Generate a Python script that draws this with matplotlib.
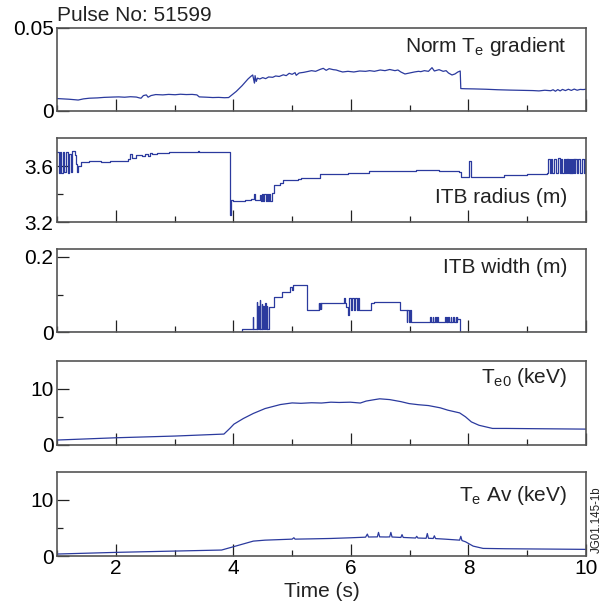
import matplotlib
matplotlib.use("Agg")
import matplotlib.pyplot as plt
import numpy as np
from matplotlib.ticker import FixedLocator, NullFormatter

plt.rcParams['font.family'] = ['Liberation Sans', 'DejaVu Sans']
plt.rcParams['mathtext.default'] = 'regular'

# ---------------- data ----------------
pulse_label = "Pulse No: 51599"
panel_labels = ["Norm T$_e$ gradient", "ITB radius (m)", "ITB width (m)",
                "T$_{e0}$ (keV)", "T$_e$ Av (keV)"]
x_ticks = [2, 4, 6, 8, 10]
x_minor = [1, 3, 5, 7, 9]

grad_t = [1.00, 1.10, 1.20, 1.30, 1.36, 1.45, 1.55, 1.69, 1.80, 1.95, 2.05, 2.15, 2.25, 2.35,
          2.40, 2.43, 2.47, 2.52, 2.55, 2.60, 2.68, 2.80, 2.90, 3.01, 3.10, 3.20, 3.30, 3.38,
          3.42, 3.55, 3.65, 3.75, 3.85, 3.92, 4.05, 4.15, 4.25, 4.30, 4.33, 4.35, 4.36, 4.37,
          4.39, 4.41, 4.45, 4.50, 4.55, 4.60, 4.67, 4.72, 4.78, 4.85, 4.90, 4.95, 5.00, 5.05,
          5.07, 5.12, 5.20, 5.28, 5.33, 5.40, 5.48, 5.53, 5.58, 5.63, 5.70, 5.75, 5.80, 5.86,
          5.95, 6.05, 6.15, 6.25, 6.32, 6.40, 6.50, 6.58, 6.66, 6.75, 6.80, 6.85, 6.92, 7.00,
          7.08, 7.15, 7.19, 7.25, 7.32, 7.38, 7.42, 7.50, 7.57, 7.62, 7.66, 7.72, 7.77, 7.82,
          7.86, 7.87, 7.95, 8.10, 8.30, 8.50, 8.70, 8.97, 9.10, 9.20, 9.30, 9.40, 9.44, 9.48,
          9.52, 9.56, 9.60, 9.65, 9.70, 9.75, 9.80, 9.85, 9.90, 9.95, 10.0]
grad_v = [.0072, .0070, .0068, .0065, .0063, .0070, .0074, .0076, .0079, .0081, .0082, .0080,
          .0083, .0081, .0076, .0074, .0090, .0094, .0080, .0090, .0096, .0094, .0097, .0095,
          .0098, .0096, .0097, .0094, .0082, .0080, .0078, .0079, .0077, .0078, .0115, .0150,
          .0190, .0206, .0214, .0180, .0165, .0210, .0175, .0195, .0190, .0198, .0192, .0202,
          .0200, .0208, .0205, .0215, .0210, .0224, .0218, .0228, .0212, .0226, .0230, .0236,
          .0240, .0236, .0248, .0254, .0242, .0252, .0246, .0244, .0238, .0232, .0236, .0232,
          .0238, .0236, .0240, .0236, .0244, .0240, .0247, .0240, .0244, .0232, .0220, .0226,
          .0232, .0236, .0234, .0240, .0236, .0258, .0238, .0246, .0236, .0240, .0226, .0214,
          .0220, .0232, .0238, .0132, .0131, .0130, .0128, .0125, .0123, .0121, .0120, .0118,
          .0122, .0119, .0125, .0116, .0126, .0118, .0127, .0120, .0128, .0121, .0129, .0122,
          .0127, .0126, .0128]

rad_t = [1.00, 1.03, 1.05, 1.07, 1.10, 1.12, 1.15, 1.18, 1.20, 1.23, 1.25, 1.30, 1.32, 1.34,
         1.36, 1.40, 1.55, 1.65, 1.75, 1.90, 2.10, 2.20, 2.25, 2.28, 2.35, 2.45, 2.50, 2.55,
         2.58, 2.62, 2.70, 2.90, 3.10, 3.40, 3.42, 3.92, 3.935, 3.95, 3.96, 4.00, 4.20, 4.30,
         4.35, 4.37, 4.40, 4.45, 4.47, 4.49, 4.51, 4.53, 4.55, 4.57, 4.59, 4.61, 4.63, 4.65,
         4.69, 4.80, 4.84, 5.10, 5.15, 5.48, 5.95, 6.30, 7.10, 7.50, 7.84, 7.88, 8.01, 8.04,
         8.60, 9.00, 9.34, 9.36, 9.38, 9.40, 9.42, 9.46, 9.49, 9.52, 9.56, 9.58, 9.60, 9.62,
         9.64, 9.66, 9.67, 9.68, 9.69, 9.70, 9.71, 9.72, 9.73, 9.74, 9.75, 9.76, 9.77, 9.78,
         9.79, 9.80, 9.81, 9.82, 9.85, 9.87, 9.90, 9.93, 9.96, 9.98, 10.0]
rad_v = [3.70, 3.55, 3.70, 3.55, 3.70, 3.56, 3.70, 3.55, 3.69, 3.56, 3.71, 3.68, 3.62, 3.56,
         3.60, 3.63, 3.635, 3.64, 3.63, 3.635, 3.64, 3.655, 3.69, 3.66, 3.68, 3.675, 3.69, 3.675,
         3.695, 3.685, 3.695, 3.70, 3.705, 3.71, 3.70, 3.705, 3.36, 3.25, 3.36, 3.355, 3.36, 3.365,
         3.40, 3.36, 3.36, 3.395, 3.355, 3.40, 3.35, 3.40, 3.35, 3.40, 3.35, 3.40, 3.35, 3.41,
         3.465, 3.48, 3.50, 3.51, 3.52, 3.545, 3.55, 3.565, 3.575, 3.565, 3.56, 3.525, 3.64, 3.525,
         3.535, 3.545, 3.555, 3.655, 3.555, 3.655, 3.555, 3.655, 3.555, 3.66, 3.555, 3.655, 3.555,
         3.655, 3.555, 3.655, 3.555, 3.655, 3.555, 3.655, 3.555, 3.655, 3.555, 3.655, 3.555, 3.655,
         3.555, 3.655, 3.555, 3.655, 3.555, 3.655, 3.555, 3.655, 3.555, 3.655, 3.555, 3.655, 3.655]

wid_t = [1.00, 4.15, 4.16, 4.32, 4.33, 4.34, 4.38, 4.40, 4.41, 4.42, 4.43, 4.45, 4.46, 4.48,
         4.49, 4.51, 4.52, 4.54, 4.55, 4.57, 4.58, 4.60, 4.69, 4.83, 4.97, 4.99, 5.01, 5.03,
         5.24, 5.25, 5.45, 5.46, 5.47, 5.49, 5.50, 5.51, 5.88, 5.90, 5.92, 5.95, 5.97, 6.00,
         6.02, 6.05, 6.07, 6.10, 6.12, 6.14, 6.33, 6.35, 6.39, 6.84, 6.86, 6.95, 6.96, 6.99,
         7.00, 7.02, 7.04, 7.35, 7.36, 7.39, 7.40, 7.43, 7.44, 7.47, 7.48, 7.60, 7.61, 7.63,
         7.64, 7.66, 7.67, 7.70, 7.71, 7.74, 7.75, 7.78, 7.79, 7.80, 7.81, 7.85, 10.0]
wid_v = [0.0, 0.0095, 0.0095, 0.0095, 0.041, 0.0095, 0.0095, 0.081, 0.0095, 0.070, 0.0095,
         0.085, 0.0095, 0.075, 0.0095, 0.070, 0.0095, 0.078, 0.0095, 0.070, 0.0095, 0.066,
         0.093, 0.107, 0.121, 0.112, 0.125, 0.125, 0.125, 0.059, 0.077, 0.062, 0.077, 0.062,
         0.077, 0.078, 0.090, 0.077, 0.068, 0.046, 0.090, 0.059, 0.090, 0.059, 0.090, 0.059,
         0.090, 0.059, 0.059, 0.077, 0.079, 0.059, 0.059, 0.028, 0.059, 0.028, 0.059, 0.028,
         0.028, 0.040, 0.028, 0.040, 0.028, 0.040, 0.028, 0.040, 0.028, 0.040, 0.028, 0.040,
         0.028, 0.040, 0.028, 0.040, 0.028, 0.040, 0.028, 0.040, 0.028, 0.040, 0.035, 0.0, 0.0]

te0_t = [1.0, 2.02, 3.01, 3.84, 3.94, 4.01, 4.17, 4.34, 4.54, 4.80, 5.00, 5.15, 5.33, 5.50,
         5.66, 5.80, 5.99, 6.16, 6.26, 6.40, 6.49, 6.66, 6.85, 6.99, 7.15, 7.32, 7.52, 7.65,
         7.85, 7.95, 8.05, 8.18, 8.41, 8.64, 9.30, 10.0]
te0_v = [0.88, 1.29, 1.59, 1.94, 2.94, 3.70, 4.70, 5.60, 6.47, 7.18, 7.47, 7.40, 7.50, 7.45,
         7.60, 7.55, 7.60, 7.45, 7.80, 8.05, 8.20, 8.06, 7.70, 7.35, 7.15, 7.00, 6.60, 6.18,
         5.70, 5.00, 4.10, 3.50, 2.94, 2.94, 2.88, 2.82]

teav_t = [1.0, 2.02, 3.01, 3.80, 3.94, 4.14, 4.34, 4.54, 5.00, 5.03, 5.05, 5.33, 5.66, 5.99,
          6.25, 6.28, 6.30, 6.45, 6.47, 6.49, 6.60, 6.66, 6.68, 6.70, 6.85, 6.87, 6.89, 7.10,
          7.12, 7.14, 7.28, 7.30, 7.32, 7.40, 7.42, 7.44, 7.60, 7.85, 7.87, 7.89, 7.95, 8.08,
          8.25, 8.64, 10.0]
teav_v = [0.35, 0.65, 0.88, 1.06, 1.47, 2.06, 2.65, 2.82, 3.00, 3.25, 3.00, 3.05, 3.12, 3.24,
          3.35, 3.90, 3.38, 3.40, 4.20, 3.40, 3.38, 3.40, 4.20, 3.38, 3.30, 3.80, 3.30, 3.20,
          3.50, 3.20, 3.15, 4.00, 3.15, 3.12, 3.60, 3.10, 3.00, 2.82, 3.50, 2.75, 2.53, 1.76,
          1.35, 1.29, 1.18]

# ---------------- figure ----------------
fig = plt.figure(figsize=(6.1, 6.1), dpi=100)
left, width = 57 / 610, 529 / 610
tops = [27.5, 138.3, 249.3, 360.5, 471.7]
bots = [110.5, 222.3, 332.3, 445.0, 556.0]

line_color = '#2b3a9e'
spine_color = '#555555'

panels = [
    dict(t=grad_t, v=grad_v, ylim=(0, 0.05), major=[0, 0.05], minor=[], lab=['0', '0.05'],
         step=False, ly=0.71),
    dict(t=rad_t, v=rad_v, ylim=(3.2, 3.8), major=[3.2, 3.6], minor=[3.4], lab=['3.2', '3.6'],
         step=True, ly=0.226),
    dict(t=wid_t, v=wid_v, ylim=(0, 0.22), major=[0, 0.2], minor=[0.1], lab=['0', '0.2'],
         step=True, ly=0.711),
    dict(t=te0_t, v=te0_v, ylim=(0, 15), major=[0, 10], minor=[5], lab=['0', '10'],
         step=False, ly=0.73),
    dict(t=teav_t, v=teav_v, ylim=(0, 15), major=[0, 10], minor=[5], lab=['0', '10'],
         step=False, ly=0.656),
]

axes = []
for i, p in enumerate(panels):
    b = 1 - bots[i] / 610
    h = (bots[i] - tops[i]) / 610
    ax = fig.add_axes([left, b, width, h])
    axes.append(ax)
    if p['step']:
        ax.plot(p['t'], p['v'], color=line_color, lw=0.9, drawstyle='steps-post')
    else:
        ax.plot(p['t'], p['v'], color=line_color, lw=0.9)
    ax.set_xlim(1, 10)
    ax.set_ylim(*p['ylim'])
    ax.xaxis.set_major_locator(FixedLocator(x_ticks))
    ax.xaxis.set_minor_locator(FixedLocator(x_minor))
    ax.yaxis.set_major_locator(FixedLocator(p['major']))
    ax.yaxis.set_minor_locator(FixedLocator(p['minor']))
    ax.set_yticklabels(p['lab'])
    ax.xaxis.set_minor_formatter(NullFormatter())
    if i < 4:
        ax.set_xticklabels([])
    ax.tick_params(which='major', direction='in', length=8.4, width=0.9, color='#222222',
                   labelsize=15, pad=2.5)
    ax.tick_params(which='minor', direction='in', length=4.0, width=0.9, color='#222222')
    for s in ax.spines.values():
        s.set_color(spine_color)
        s.set_linewidth(1.2)
    ax.text(0.964, p['ly'], panel_labels[i], transform=ax.transAxes, ha='right',
            va='baseline', fontsize=15, color='#222222')

fig.text(left, 1 - 20.7 / 610, pulse_label, ha='left', va='baseline', fontsize=15,
         color='#222222')
fig.text(321.5 / 610, 1 - 597 / 610, "Time (s)", ha='center', va='baseline', fontsize=15,
         color='#222222')
fig.text(596.7 / 610, 1 - 553 / 610, "JG01.145-1b", rotation=90, ha='center', va='bottom',
         fontsize=8.3, color='#222222')

fig.savefig("out.png", dpi=100)
